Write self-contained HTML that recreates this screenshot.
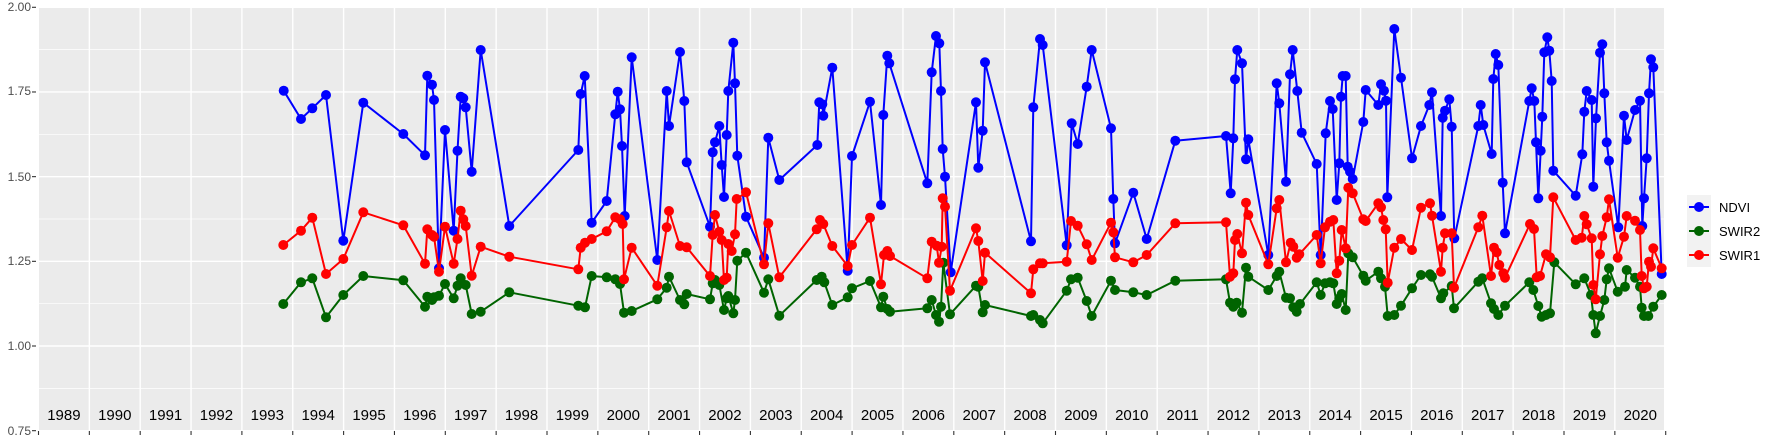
<!DOCTYPE html>
<html><head><meta charset="utf-8"><style>
html,body{margin:0;padding:0;background:#fff;}
svg{display:block;font-family:"Liberation Sans",sans-serif;}
</style></head><body>
<svg id="s" width="1773" height="442" viewBox="0 0 1773 442" xmlns="http://www.w3.org/2000/svg">
<rect x="39" y="7" width="1625" height="424" fill="#ebebeb"/>
<g id="grid"></g>
<g id="data"></g>
<g id="labels" font-size="12" fill="#4d4d4d" text-anchor="end">
<text x="31" y="11">2.00</text>
<text x="31" y="95">1.75</text>
<text x="31" y="181">1.50</text>
<text x="31" y="265">1.25</text>
<text x="31" y="350">1.00</text>
<text x="31" y="435">0.75</text>
</g>
<g id="legend">
<rect x="1687" y="195" width="24" height="72" fill="#f2f2f2"/>
<line x1="1689" x2="1709" y1="207" y2="207" stroke="#0000ff" stroke-width="2"/>
<circle cx="1699" cy="207" r="5" fill="#0000ff"/>
<line x1="1689" x2="1709" y1="231" y2="231" stroke="#006400" stroke-width="2"/>
<circle cx="1699" cy="231" r="5" fill="#006400"/>
<line x1="1689" x2="1709" y1="255" y2="255" stroke="#ff0000" stroke-width="2"/>
<circle cx="1699" cy="255" r="5" fill="#ff0000"/>
<text x="1719" y="212" font-size="13" fill="#000">NDVI</text>
<text x="1719" y="236" font-size="13" fill="#000">SWIR2</text>
<text x="1719" y="260" font-size="13" fill="#000">SWIR1</text>
</g>
</svg>
<script>
var NS="http://www.w3.org/2000/svg";
function el(t,a,p){var e=document.createElementNS(NS,t);for(var k in a)e.setAttribute(k,a[k]);p.appendChild(e);return e;}
var g=document.getElementById('grid');
function yv(v){return 7.3+(2-v)*338.7;}
[0.875,1.125,1.375,1.625,1.875].forEach(function(v){el('line',{x1:39,x2:1664,y1:yv(v),y2:yv(v),stroke:'#fff','stroke-width':0.7},g);});
[0.75,1,1.25,1.5,1.75,2].forEach(function(v){el('line',{x1:39,x2:1664,y1:yv(v),y2:yv(v),stroke:'#fff','stroke-width':1.4},g);
el('line',{x1:32,x2:36,y1:yv(v),y2:yv(v),stroke:'#333','stroke-width':1.1},g);});
for(var i=0;i<=32;i++){var x=38.5+i*50.85;
if(x>39&&x<1664)el('line',{x1:x,x2:x,y1:7,y2:431,stroke:'#fff','stroke-width':1.4},g);
el('line',{x1:x,x2:x,y1:431,y2:435,stroke:'#333','stroke-width':1.1},g);
if(i<32){var t=el('text',{x:x+25.4,y:420,'font-size':15,'text-anchor':'middle',fill:'#000'},g);t.textContent=1989+i;}}
var B="283.7,90.7 301,119 312.3,108.3 326,95 343.3,240.7 363.3,102.7 403.3,134 425,155.3 427.3,75.7 432,84.7 434,100 439,268.3 445,130 453.7,230.7 457.5,150.7 460.7,96.7 463.3,98.3 465.7,107.3 471.7,171.7 480.7,50 509.3,226 578.3,150 580.7,94 584.7,76 591.7,222.7 606.7,201 615.3,114.3 617.7,91.7 620,109.3 622,146 624.7,216 631.7,57.3 657.3,260 666.7,91 669,126 680,52 684.3,101 686.7,162.3 710,226.7 712.7,152.3 715,142.3 719.3,126 721.7,165 724,197 726.7,135 728.3,91 733.3,42.7 735,83.3 737.3,155.7 746,216.7 764,257.7 768.3,137.7 779.3,180 817.3,145 819.3,102.3 822.3,104.3 823.3,115.7 832.3,67.7 847.7,270.7 852,156 870,101.7 881,205 883.3,115 887.3,55.7 889.3,63.3 927.3,183.3 931.7,72.3 936,36 939.3,43.3 941,91 942.7,149 945,176.7 950.7,272.3 976,102.3 978.3,167.7 982.7,130.7 985,62.3 1031,241.3 1033.3,107.3 1040,39 1042.7,45 1066.7,245.3 1071.7,123.3 1077.7,144 1086.7,86.7 1091.7,50 1111,128.3 1113.3,199 1115,243.3 1133.3,192.7 1146.7,239 1175.3,140.7 1226,136 1230.7,193.3 1233.3,138.3 1235,79.3 1237.3,50 1242,63.3 1246,159.3 1248.3,139.3 1268.3,255 1276.7,83.3 1279.3,103.3 1286,181.7 1290,74.3 1292.7,50 1297.3,91 1301.7,132.7 1316.7,164 1320.7,255 1325.7,133.3 1330,101 1332.7,109 1336.7,200 1339.3,163.3 1341,96.7 1342.7,76 1345.7,76 1347.7,166.7 1350,171.7 1352.7,179 1363.3,122 1365.7,90 1378.3,105 1381,84.3 1384,90.7 1386,100.7 1387.3,197.3 1394.3,29 1401,77.7 1412,158.3 1421,126 1429.3,105 1432,92.3 1441,216 1442.7,117.7 1445,110.7 1449.3,99.3 1451.7,126.7 1454.3,238.3 1478.3,126 1480.7,105 1483.3,125 1491.7,154 1493.3,79 1495.7,54 1498.3,65 1502.7,182.7 1505,233.3 1529.3,101 1531.7,88.3 1534.3,101 1536,142.3 1538.3,198.3 1540.7,150.7 1542.3,116.7 1544.3,52.3 1547.3,37.3 1549.3,50.7 1551.7,81 1553.3,170.7 1575.7,195.7 1582.3,154.3 1584.3,111.7 1586.7,91 1591.7,100 1593.3,186.7 1596,118.3 1600,52.7 1602.3,44.3 1604.3,93.3 1606.7,142.3 1609,160.7 1618.3,227.3 1624,115.7 1626.7,140 1635,110 1640,100.7 1642.3,226 1644,198.3 1646.7,158.3 1649,93.3 1651,59.3 1653.3,67.3 1661.7,274";
var G="283.3,304 301,282.3 312.3,278.3 326,317.3 343.3,295 363.3,276 403.3,280.3 425,306.7 427.3,296.7 432,300 434,297.3 439,295.7 445,284 453.7,298.3 457.5,285.7 460.7,278.3 465.7,285 471.7,314 480.7,311.7 509.3,292.3 578.3,305.7 585,307.3 591.7,276 606.7,277.3 615.3,279.3 620,284 624,312.7 631.7,311 657.3,299.3 666.7,287.7 669,276.7 680,300 684.3,304.3 686.7,294 710,299.3 712.7,283.3 715,280 719.3,285 724,310 726.7,298.3 728.3,296 733.3,313.3 735,300 737.3,260.7 746,252.7 764,292.7 768.3,279.3 779.3,315.7 816.7,280 821.7,276.7 824.3,282.3 832.3,305 847.7,297.3 852,288.3 870,281 881,307.3 883.3,296.7 887.3,309 890,311.7 927.3,308.3 931.7,300 936,315 939,321.7 941,306.7 943.3,262.7 950,314.3 976,285.7 978.3,286.7 982.7,312.3 985,305 1031,316 1033.3,315 1040,320 1042.7,323.3 1066.7,290.7 1071,279.3 1077.7,277.7 1086.7,301 1091.7,316 1111,280.7 1115,290 1133.3,292.3 1146.7,295 1175.3,280.7 1226,279.3 1230,302.7 1233.3,306.7 1236.7,302.7 1242,312.7 1246,267.7 1248.3,276.7 1268.3,290 1276.7,276 1279.3,271.7 1286,297.7 1290,298.3 1293.3,307.3 1296.7,311.7 1300,304 1316.7,282.3 1320.7,295 1325,283.3 1330,282.3 1333.3,283.3 1336.7,304 1339.3,298.3 1341.7,294 1345.7,310 1348.3,253.3 1352.7,257.3 1363.3,275.7 1365.7,280.7 1378.3,271.7 1381,278.3 1385,286.7 1387.7,316 1394.3,315 1401,305.7 1412,288.3 1421,275 1430,274.3 1432,276.7 1441,298.3 1443.3,293.3 1451.7,286 1454,308.3 1478.3,281.7 1482.3,278.3 1491,303.3 1494,309 1498.3,315 1505,305.7 1529.3,282.3 1533.3,290 1538.3,306 1541.7,316.7 1546,315 1550,313.3 1554.3,262.3 1575.7,284.3 1584.3,278.3 1591,295 1593.3,315 1595.7,333.3 1600,316 1604.3,300 1606.7,279.3 1609,268.3 1617.7,291.7 1625,286.7 1626.7,270 1635,277.7 1640,286.7 1641.7,307.7 1644,316 1648.3,316 1653.3,306.7 1661.7,295";
var R="283.3,245 301,230.7 312.3,217.7 326,274 343.3,259 363.3,212.3 403.3,225.3 425,263.7 427.3,229.3 432,235 434,236.7 439,271.7 445,226.7 453.7,263.7 457.5,239 460.7,210.7 463.3,219.3 465.7,226 471.7,275.7 480.7,246.7 509.3,256.7 578.3,269.3 580.7,247.7 585,242.7 591.7,239 606.7,231.3 615.3,217.3 620,219.3 622.7,224 624,279.3 631.7,247.7 657.3,285.7 666.7,227.3 669,211 680,246 686.7,247.3 710,276 712.7,235 715,215 719.3,231.7 721.7,240 724,280 726.7,277.7 728.3,244 731.7,251 735,234.3 736.7,199 746,192.3 764,264.3 768.3,223.3 779.3,277.3 816.7,229.3 820,220 823.3,224 832.3,246 847.7,266 852,245 870,217.7 881,284.3 884,255 887.3,251 890,256 927.3,278.3 931.7,241.7 936.7,245.7 939,262.7 941.7,246.7 942.7,198.3 945,206.7 950,290.7 976,228.3 978.3,241 982.7,281 985,252.7 1031,293.3 1033.3,269.3 1040,263.3 1042.7,263.3 1066.7,261.7 1071,221 1077.7,225.7 1086.7,244.3 1091.7,260 1111,222.7 1113.3,232.3 1115,257.3 1133.3,262.3 1146.7,255 1175.3,223.3 1226,222.3 1230,276.7 1233.3,273.3 1235,240 1237.3,234 1242,253.3 1246,202.7 1248.3,215 1268.3,264.3 1276.7,208.3 1279.3,200 1286,262.3 1290.7,242.7 1293.3,246.7 1296.7,257.7 1299.3,254.3 1316.7,235 1320.7,263.3 1325,227.3 1330,221.7 1333.3,220 1336.7,273.3 1339.3,260.7 1341.7,230 1345.7,248.3 1348.3,187.7 1352.7,193.3 1363.3,219.3 1365.7,221 1378.3,203.3 1381,207.3 1383.3,220 1385.7,229.3 1387.7,282.7 1394.3,247.7 1401,239 1412,250 1421,207.7 1430,203.3 1432,215.7 1441,271.7 1442.7,247.7 1445,233.3 1451.7,233.3 1454,287.7 1478.3,227.3 1482.3,215.7 1491,276 1494,247.7 1496.7,252.3 1499.3,265 1503.3,273.3 1505,277.7 1530,224 1534,229 1536.7,277.3 1540,276 1546,254.3 1550,257.3 1553.3,197.3 1575.7,240 1581.7,237.7 1584.3,216 1586.7,224.3 1591.7,238.3 1593.3,285 1595.7,299.3 1600,254.3 1602.3,236 1606.7,217.3 1609,199.3 1617.7,257.7 1624,236.7 1626.7,216 1635,220.7 1640,230 1641.7,276 1644,288.3 1646.7,286.7 1649,261.7 1651,266.7 1653.3,248.3 1661.7,268.3";
var d=document.getElementById('data');
[[B,'#0000ff'],[G,'#006400'],[R,'#ff0000']].forEach(function(s){
el('polyline',{points:s[0],fill:'none',stroke:s[1],'stroke-width':2,'stroke-linejoin':'round'},d);
s[0].split(' ').forEach(function(p){var a=p.split(',');el('circle',{cx:a[0],cy:a[1],r:5,fill:s[1]},d);});
});
</script>
</body></html>
